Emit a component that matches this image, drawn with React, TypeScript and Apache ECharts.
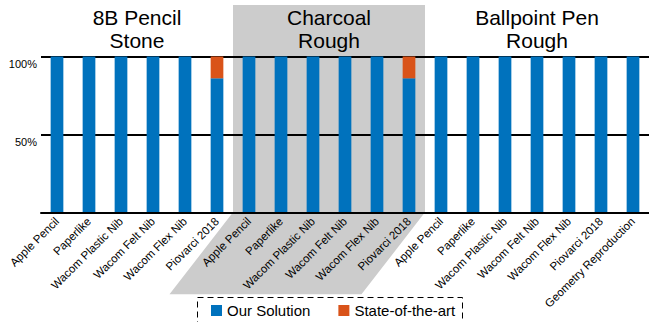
import React, { useEffect, useRef } from "react";
import * as echarts from "echarts";

// Pen / tip variants tested on each drawing surface
const categories = [
  "Apple Pencil", "Paperlike", "Wacom Plastic Nib", "Wacom Felt Nib", "Wacom Flex Nib", "Piovarci 2018",
  "Apple Pencil", "Paperlike", "Wacom Plastic Nib", "Wacom Felt Nib", "Wacom Flex Nib", "Piovarci 2018",
  "Apple Pencil", "Paperlike", "Wacom Plastic Nib", "Wacom Felt Nib", "Wacom Flex Nib", "Piovarci 2018",
  "Geometry Reproduction",
];

// Drawing surfaces, and how many categories each one spans
const groupTitles = ["8B Pencil\nStone", "Charcoal\nRough", "Ballpoint Pen\nRough"];
const groupSizes = [6, 6, 7];
const shadedGroup = 1;

// Share of preferences (%)
const ourSolution = [100, 100, 100, 100, 100, 86, 100, 100, 100, 100, 100, 86, 100, 100, 100, 100, 100, 100, 100];
const stateOfTheArt = [0, 0, 0, 0, 0, 14, 0, 0, 0, 0, 0, 14, 0, 0, 0, 0, 0, 0, 0];

const yTicks = [0, 50, 100];

const FONT = "'Liberation Sans', Arial, Helvetica, sans-serif";
const BLUE = "#0072BD";
const ORANGE = "#D95319";
const SHADE = "#CCCCCC";

export default function App() {
  const ref = useRef<HTMLDivElement>(null);

  useEffect(() => {
    if (!ref.current) return;
    const chart = echarts.init(ref.current, undefined, { renderer: "svg" });

    chart.setOption({
      animation: false,
      textStyle: { fontFamily: FONT },
      grid: { left: 41, top: 56.5, width: 613.7, height: 155.8, containLabel: false },
      legend: {
        data: ["Our Solution", "State-of-the-art"],
        left: 211,
        top: 303,
        padding: 0,
        icon: "rect",
        itemWidth: 11,
        itemHeight: 11,
        itemGap: 28,
        textStyle: { fontSize: 15, color: "#000", fontFamily: FONT },
      },
      xAxis: {
        type: "category",
        data: categories,
        axisTick: { show: false },
        axisLine: { lineStyle: { color: "#000", width: 2 } },
        axisLabel: {
          interval: 0,
          rotate: 45,
          fontSize: 11.5,
          color: "#000",
          margin: 7,
          padding: [8, 0, 0, 0],
          fontFamily: FONT,
        },
        z: 3,
      },
      yAxis: {
        type: "value",
        min: yTicks[0],
        max: yTicks[yTicks.length - 1],
        interval: yTicks[1] - yTicks[0],
        axisLine: { show: false },
        axisTick: { show: false },
        splitLine: { lineStyle: { color: "#000", width: 2 } },
        axisLabel: {
          formatter: (v: number) => (v === 0 ? "" : `${v}%`),
          fontSize: 11,
          color: "#000",
          margin: 4,
          verticalAlign: "top",
          padding: [2, 0, 0, 0],
          fontFamily: FONT,
        },
      },
      series: [
        {
          name: "Our Solution",
          type: "bar",
          stack: "share",
          barWidth: 12.7,
          itemStyle: { color: BLUE },
          data: ourSolution,
        },
        {
          name: "State-of-the-art",
          type: "bar",
          stack: "share",
          barWidth: 12.7,
          itemStyle: { color: ORANGE },
          data: stateOfTheArt,
        },
      ],
    });

    // Group headers and the shaded band, placed from the axis scales
    const xPx = (i: number) => chart.convertToPixel({ xAxisIndex: 0 }, i) as number;
    const yPx = (v: number) => chart.convertToPixel({ yAxisIndex: 0 }, v) as number;
    const bandW = xPx(1) - xPx(0);
    const y0 = yPx(0);

    const elements: any[] = [];
    let start = 0;
    groupSizes.forEach((size, g) => {
      const end = start + size - 1;
      const left = xPx(start) - bandW / 2;
      const right = xPx(end) + bandW / 2;
      if (g === shadedGroup) {
        const slant = 63.5;
        const depth = 82;
        elements.push({
          type: "polygon",
          z: -10,
          silent: true,
          shape: {
            points: [
              [left, 5],
              [right, 5],
              [right, y0],
              [right - slant, y0 + depth],
              [left - slant, y0 + depth],
              [left, y0],
            ],
          },
          style: { fill: SHADE },
        });
      }
      elements.push({
        type: "text",
        z: 5,
        x: (xPx(start) + xPx(end)) / 2,
        y: 6,
        style: {
          text: groupTitles[g],
          align: "center",
          verticalAlign: "top",
          font: `21px ${FONT}`,
          lineHeight: 23,
          fill: "#000",
        },
      });
      start = end + 1;
    });

    // Dashed frame around the legend
    elements.push({
      type: "rect",
      z: 5,
      silent: true,
      shape: { x: 197.5, y: 297.5, width: 265, height: 40 },
      style: { fill: "none", stroke: "#000", lineWidth: 1, lineDash: [6, 4] },
    });

    chart.setOption({ graphic: { elements } });

    return () => chart.dispose();
  }, []);

  return (
    <div
      ref={ref}
      style={{ position: "fixed", left: 0, top: 0, width: 649, height: 322, background: "#fff" }}
    />
  );
}
